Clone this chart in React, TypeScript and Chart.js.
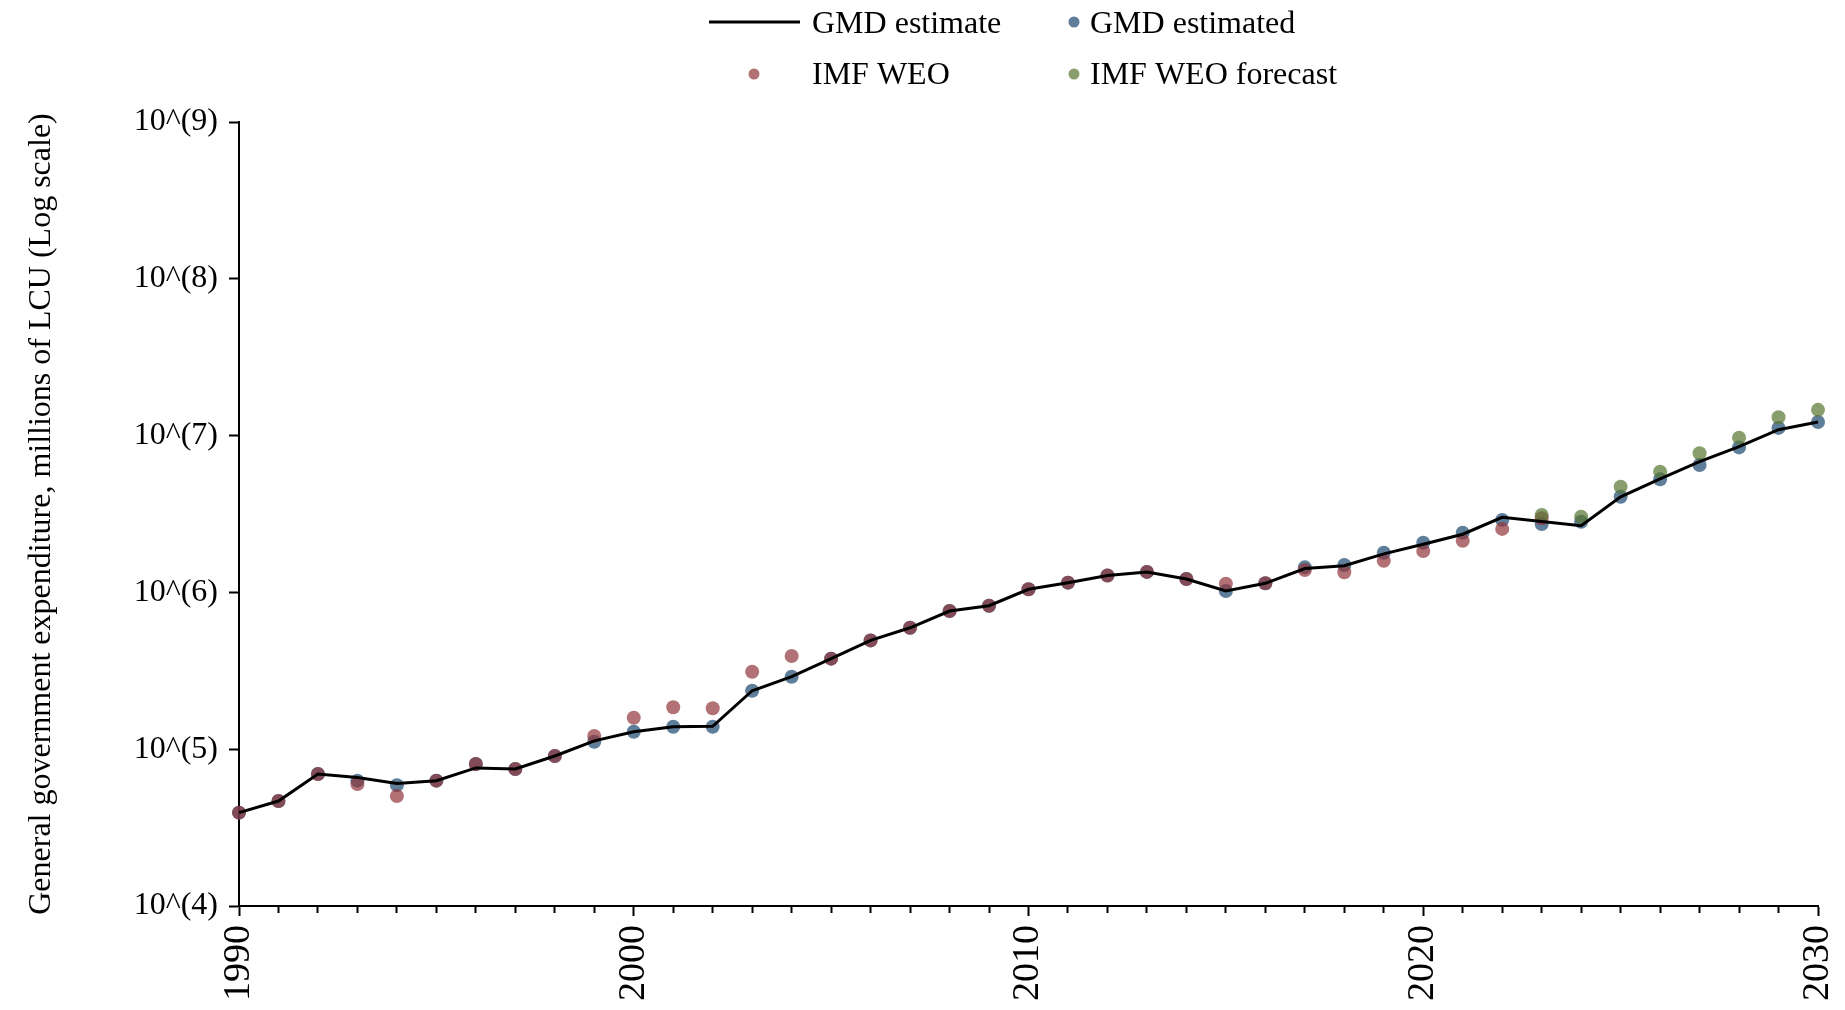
import React, { useEffect, useRef } from "react";
import { Chart, registerables } from "chart.js";

Chart.register(...registerables);

const FONT = '"Liberation Serif", "Times New Roman", Times, serif';

// Years
const years: number[] = [
  1990, 1991, 1992, 1993, 1994, 1995, 1996, 1997, 1998, 1999,
  2000, 2001, 2002, 2003, 2004, 2005, 2006, 2007, 2008, 2009,
  2010, 2011, 2012, 2013, 2014, 2015, 2016, 2017, 2018, 2019,
  2020, 2021, 2022, 2023, 2024, 2025, 2026, 2027, 2028, 2029, 2030,
];

// GMD estimate (line)
const gmdLine: number[] = [
  39400, 46700, 69500, 66000, 60500, 63000, 76000, 74800, 90500, 113000,
  129300, 139200, 140000, 236000, 290000, 378000, 494000, 595000, 761000, 822000,
  1047000, 1154000, 1282000, 1351000, 1217000, 1021000, 1143000, 1420000, 1480000, 1760000,
  2030000, 2350000, 3010000, 2830000, 2660000, 4070000, 5300000, 6830000, 8500000, 10900000, 12200000,
];

// GMD estimated (blue points)
const gmdPoints: number[] = [
  39400, 46700, 69500, 63000, 59000, 63000, 80500, 74800, 90500, 111600,
  129300, 139200, 139200, 236000, 290000, 378000, 494000, 595000, 761000, 822000,
  1047000, 1154000, 1282000, 1351000, 1217000, 1021000, 1143000, 1445000, 1496000, 1791000,
  2075000, 2404000, 2900000, 2730000, 2820000, 4070000, 5260000, 6500000, 8410000, 11200000, 12200000,
];

// IMF WEO (red points)
const weoYears: number[] = [
  1990, 1991, 1992, 1993, 1994, 1995, 1996, 1997, 1998, 1999,
  2000, 2001, 2002, 2003, 2004, 2005, 2006, 2007, 2008, 2009,
  2010, 2011, 2012, 2013, 2014, 2015, 2016, 2017, 2018, 2019,
  2020, 2021, 2022, 2023,
];
const weoValues: number[] = [
  39400, 46700, 69500, 60000, 50300, 63000, 80500, 74800, 90500, 121400,
  158800, 185000, 182400, 312000, 393000, 378000, 494000, 595000, 761000, 822000,
  1047000, 1154000, 1282000, 1351000, 1217000, 1137000, 1143000, 1390000, 1343000, 1592000,
  1837000, 2137000, 2540000, 2970000,
];

// IMF WEO forecast (green points)
const forecastYears: number[] = [2023, 2024, 2025, 2026, 2027, 2028, 2029, 2030];
const forecastValues: number[] = [3120000, 3040000, 4720000, 5890000, 7710000, 9700000, 13100000, 14600000];

const yTickValues: number[] = [1e4, 1e5, 1e6, 1e7, 1e8, 1e9];
const xLabelYears: number[] = [1990, 2000, 2010, 2020, 2030];

const legendLabels: string[] = ["GMD estimate", "GMD estimated", "IMF WEO", "IMF WEO forecast"];

const BLUE = "rgba(26,71,111,0.7)";
const RED = "rgba(144,53,59,0.7)";
const GREEN = "rgba(85,117,47,0.7)";

const legendPlugin = {
  id: "customLegend",
  afterDraw(chart: any) {
    const ctx = chart.ctx as CanvasRenderingContext2D;
    ctx.save();
    ctx.font = `32px ${FONT}`;
    ctx.fillStyle = "#000";
    ctx.textAlign = "left";
    ctx.textBaseline = "alphabetic";
    // Row 1: line sample
    ctx.strokeStyle = "#000";
    ctx.lineWidth = 3;
    ctx.beginPath();
    ctx.moveTo(709, 22);
    ctx.lineTo(800, 22);
    ctx.stroke();
    ctx.fillText(legendLabels[0], 812, 33);
    // Row 1: blue marker
    ctx.fillStyle = BLUE;
    ctx.beginPath();
    ctx.arc(1074, 22, 5.5, 0, Math.PI * 2);
    ctx.fill();
    ctx.fillStyle = "#000";
    ctx.fillText(legendLabels[1], 1090, 33);
    // Row 2: red marker
    ctx.fillStyle = RED;
    ctx.beginPath();
    ctx.arc(754, 74, 5.5, 0, Math.PI * 2);
    ctx.fill();
    ctx.fillStyle = "#000";
    ctx.fillText(legendLabels[2], 812, 84);
    // Row 2: green marker
    ctx.fillStyle = GREEN;
    ctx.beginPath();
    ctx.arc(1074, 74, 5.5, 0, Math.PI * 2);
    ctx.fill();
    ctx.fillStyle = "#000";
    ctx.fillText(legendLabels[3], 1090, 84);
    ctx.restore();
  },
};

export default function App() {
  const canvasRef = useRef<HTMLCanvasElement | null>(null);

  useEffect(() => {
    if (!canvasRef.current) return;
    const pts = (xs: number[], ys: number[]) => xs.map((x, i) => ({ x, y: ys[i] }));
    const chart = new Chart(canvasRef.current, {
      type: "line",
      data: {
        datasets: [
          {
            label: legendLabels[0],
            data: pts(years, gmdLine),
            borderColor: "#000",
            borderWidth: 3,
            pointRadius: 0,
            fill: false,
            tension: 0,
            clip: false,
            order: 0,
          } as any,
          {
            label: legendLabels[3],
            data: pts(forecastYears, forecastValues),
            showLine: false,
            pointRadius: 7,
            pointBackgroundColor: GREEN,
            pointBorderWidth: 0,
            borderColor: GREEN,
            backgroundColor: GREEN,
            clip: false,
            order: 1,
          } as any,
          {
            label: legendLabels[2],
            data: pts(weoYears, weoValues),
            showLine: false,
            pointRadius: 7,
            pointBackgroundColor: RED,
            pointBorderWidth: 0,
            borderColor: RED,
            backgroundColor: RED,
            clip: false,
            order: 2,
          } as any,
          {
            label: legendLabels[1],
            data: pts(years, gmdPoints),
            showLine: false,
            pointRadius: 7,
            pointBackgroundColor: BLUE,
            pointBorderWidth: 0,
            borderColor: BLUE,
            backgroundColor: BLUE,
            clip: false,
            order: 3,
          } as any,
        ],
      },
      options: {
        responsive: false,
        animation: false,
        layout: { padding: { top: 122, right: 27, left: 0, bottom: 0 } },
        plugins: {
          legend: { display: false },
          tooltip: { enabled: false },
        },
        scales: {
          x: {
            type: "linear",
            min: 1990,
            max: 2030,
            afterFit: (scale: any) => {
              scale.height = 104;
              scale.paddingLeft = 0;
              scale.paddingRight = 0;
            },
            border: { display: true, color: "#000", width: 2 },
            grid: {
              drawOnChartArea: false,
              drawTicks: true,
              tickLength: 10,
              tickColor: "#000",
              tickWidth: 2,
              tickBorderDash: (ctx: any) =>
                ctx.tick && xLabelYears.includes(ctx.tick.value) ? [] : [6, 30],
            },
            ticks: {
              stepSize: 1,
              autoSkip: false,
              maxRotation: 90,
              minRotation: 90,
              padding: 9,
              color: "#000",
              font: { family: FONT, size: 38 },
              callback: (v: any) => (xLabelYears.includes(Number(v)) ? String(v) : ""),
            },
          },
          y: {
            type: "logarithmic",
            min: 1e4,
            max: 1e9,
            afterFit: (scale: any) => {
              scale.width = 239;
              scale.paddingTop = 0;
              scale.paddingBottom = 0;
            },
            afterBuildTicks: (scale: any) => {
              scale.ticks = yTickValues.map((v) => ({ value: v }));
            },
            border: { display: true, color: "#000", width: 2 },
            grid: {
              drawOnChartArea: false,
              drawTicks: true,
              tickLength: 10,
              tickColor: "#000",
              tickWidth: 2,
            },
            ticks: {
              padding: 11,
              color: "#000",
              font: { family: FONT, size: 32 },
              callback: (v: any) => `10^(${Math.round(Math.log10(Number(v)))})`,
            },
            title: {
              display: true,
              text: "General government expenditure, millions of LCU (Log scale)",
              color: "#000",
              font: { family: FONT, size: 32 },
              padding: { top: 22, bottom: 0 },
            },
          },
        },
      },
      plugins: [legendPlugin],
    });
    return () => chart.destroy();
  }, []);

  return (
    <div style={{ position: "absolute", left: 0, top: 0, width: 1845, height: 1010, background: "#fff" }}>
      <canvas ref={canvasRef} width={1845} height={1010} />
    </div>
  );
}
